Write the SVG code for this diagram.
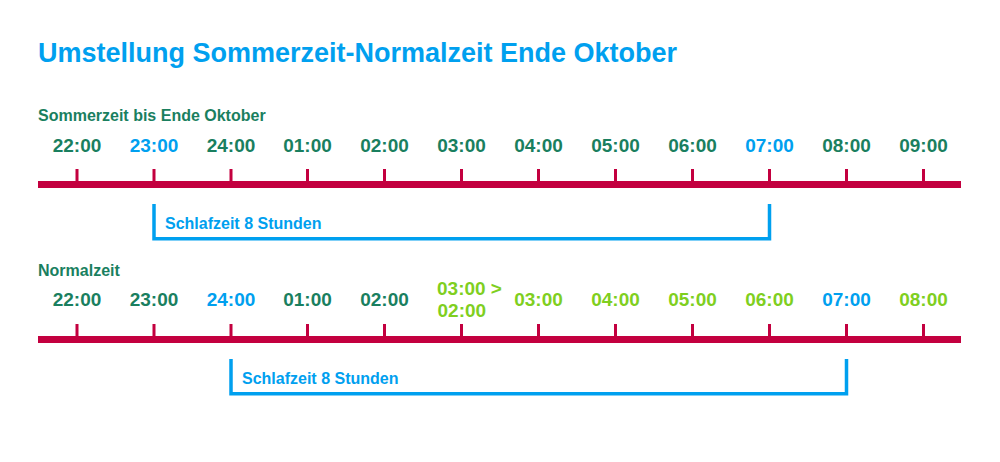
<svg xmlns="http://www.w3.org/2000/svg" width="1000" height="462" viewBox="0 0 1000 462">
<style>
text{font-family:"Liberation Sans",Arial,sans-serif;font-weight:bold}
.title{font-size:27px;fill:#00a0ef}
.sub{font-size:16px;fill:#1a7f5f}
.t{font-size:19px;text-anchor:middle}
.g{fill:#1a7f5f}
.b{fill:#00a0ef}
.l{fill:#7fcf1f}
.bar{fill:#c3003f}
.br{fill:none;stroke:#00a0ef;stroke-width:3.5}
.sl{font-size:16px;fill:#00a0ef}
</style>
<rect width="1000" height="462" fill="#fff"/>
<text class="title" x="38" y="62">Umstellung Sommerzeit-Normalzeit Ende Oktober</text>

<g id="timeline-sommerzeit">
<text class="sub" x="38" y="121">Sommerzeit bis Ende Oktober</text>
<rect class="bar" x="38" y="181" width="923" height="7"/>
<g class="bar">
<rect x="75.5" y="169" width="3" height="13"/><rect x="152.5" y="169" width="3" height="13"/><rect x="229.5" y="169" width="3" height="13"/><rect x="306" y="169" width="3" height="13"/><rect x="383" y="169" width="3" height="13"/><rect x="460" y="169" width="3" height="13"/><rect x="537" y="169" width="3" height="13"/><rect x="614" y="169" width="3" height="13"/><rect x="691" y="169" width="3" height="13"/><rect x="768" y="169" width="3" height="13"/><rect x="845" y="169" width="3" height="13"/><rect x="922" y="169" width="3" height="13"/>
</g>
<text class="t g" x="77" y="152">22:00</text>
<text class="t b" x="154" y="152">23:00</text>
<text class="t g" x="231" y="152">24:00</text>
<text class="t g" x="307.5" y="152">01:00</text>
<text class="t g" x="384.5" y="152">02:00</text>
<text class="t g" x="461.5" y="152">03:00</text>
<text class="t g" x="538.5" y="152">04:00</text>
<text class="t g" x="615.5" y="152">05:00</text>
<text class="t g" x="692.5" y="152">06:00</text>
<text class="t b" x="769.5" y="152">07:00</text>
<text class="t g" x="846.5" y="152">08:00</text>
<text class="t g" x="923.5" y="152">09:00</text>
</g>

<g id="sleep-sommerzeit">
<polyline class="br" points="154,204 154,238.7 769.5,238.7 769.5,204"/>
<text class="sl" x="165" y="229">Schlafzeit 8 Stunden</text>
</g>

<g id="timeline-normalzeit">
<text class="sub" x="38" y="276">Normalzeit</text>
<rect class="bar" x="38" y="336" width="923" height="7"/>
<g class="bar">
<rect x="75.5" y="324" width="3" height="13"/><rect x="152.5" y="324" width="3" height="13"/><rect x="229.5" y="324" width="3" height="13"/><rect x="306" y="324" width="3" height="13"/><rect x="383" y="324" width="3" height="13"/><rect x="460" y="324" width="3" height="13"/><rect x="537" y="324" width="3" height="13"/><rect x="614" y="324" width="3" height="13"/><rect x="691" y="324" width="3" height="13"/><rect x="768" y="324" width="3" height="13"/><rect x="845" y="324" width="3" height="13"/><rect x="922" y="324" width="3" height="13"/>
</g>
<text class="t g" x="77" y="306">22:00</text>
<text class="t g" x="154" y="306">23:00</text>
<text class="t b" x="231" y="306">24:00</text>
<text class="t g" x="307.5" y="306">01:00</text>
<text class="t g" x="384.5" y="306">02:00</text>
<text class="l" style="font-size:19px" x="437" y="295">03:00 &gt;</text>
<text class="l" style="font-size:19px" x="437.5" y="317">02:00</text>
<text class="t l" x="538.5" y="306">03:00</text>
<text class="t l" x="615.5" y="306">04:00</text>
<text class="t l" x="692.5" y="306">05:00</text>
<text class="t l" x="769.5" y="306">06:00</text>
<text class="t b" x="846.5" y="306">07:00</text>
<text class="t l" x="923.5" y="306">08:00</text>
</g>

<g id="sleep-normalzeit">
<polyline class="br" points="231,359 231,393.7 846.5,393.7 846.5,359"/>
<text class="sl" x="242" y="384">Schlafzeit 8 Stunden</text>
</g>
</svg>
